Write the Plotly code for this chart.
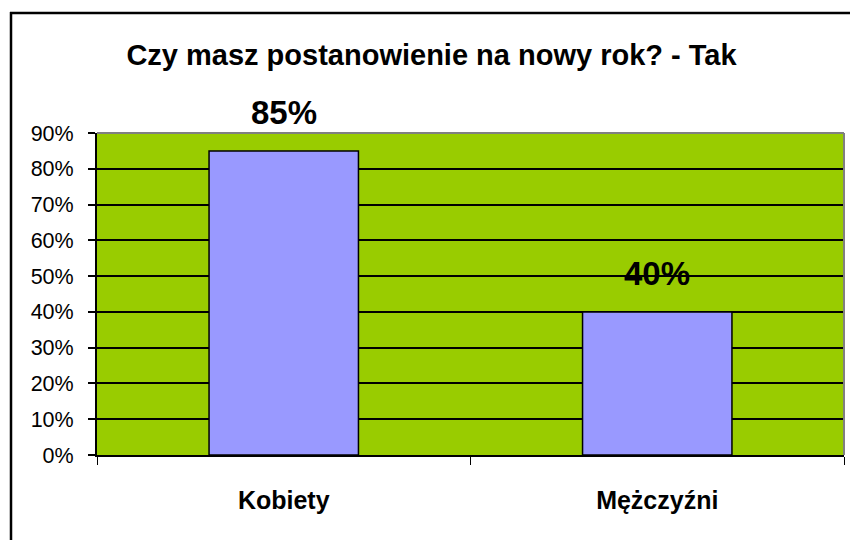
import plotly.graph_objects as go

categories = ["Kobiety", "Mężczyźni"]
values = [0.85, 0.40]
value_labels = ["85%", "40%"]
y_ticks = [0, 0.1, 0.2, 0.3, 0.4, 0.5, 0.6, 0.7, 0.8, 0.9]
y_tick_labels = ["0%", "10%", "20%", "30%", "40%", "50%", "60%", "70%", "80%", "90%"]
title_text = "Czy masz postanowienie na nowy rok? - Tak"

FONT = "Liberation Sans, Arial, sans-serif"

W, H = 850, 540
L, R, T, B = 97, 844, 133, 455
pw, ph = R - L, B - T

def px_x(p):
    return (p - L) / pw

def px_y(p):
    return (B - p) / ph

fig = go.Figure()
fig.add_trace(go.Bar(
    x=list(range(len(categories))),
    y=values,
    width=0.4,
    marker=dict(color="#9999FF", line=dict(color="black", width=1.5)),
    cliponaxis=False,
))

annotations = [
    dict(x=i, y=v, xref="x", yref="y", text=f"<b>{lab}</b>", showarrow=False,
         yanchor="bottom", yshift=18,
         font=dict(family=FONT, size=33, color="black"))
    for i, (v, lab) in enumerate(zip(values, value_labels))
]

fig.update_layout(
    width=W, height=H,
    margin=dict(l=L, r=W - R, t=T, b=H - B),
    paper_bgcolor="white",
    plot_bgcolor="#99CC00",
    showlegend=False,
    title=dict(text=f"<b>{title_text}</b>", x=431.5 / W, xref="container", xanchor="center",
               y=1 - 55 / H, yref="container", yanchor="middle",
               font=dict(family=FONT, size=29, color="black")),
    annotations=annotations,
    xaxis=dict(
        range=[-0.5, 1.5],
        tickmode="array",
        tickvals=list(range(len(categories))),
        ticktext=[f"<b>{c}</b>" for c in categories],
        ticks="",
        tickfont=dict(family=FONT, size=25, color="black"),
        ticklabelstandoff=22,
        showgrid=False,
        zeroline=False,
        showline=True, linecolor="black", linewidth=2,
        minor=dict(tickmode="array", tickvals=[-0.5, 0.5, 1.5], ticks="outside",
                   ticklen=8, tickwidth=1, tickcolor="black", showgrid=False),
    ),
    yaxis=dict(
        range=[0, 0.9],
        tickmode="array",
        tickvals=y_ticks,
        ticktext=y_tick_labels,
        ticks="outside", ticklen=7, tickwidth=2, tickcolor="black",
        tickfont=dict(family=FONT, size=21.5, color="black"),
        ticklabelstandoff=10,
        showgrid=True, gridcolor="black", gridwidth=2,
        zeroline=False,
        showline=True, linecolor="black", linewidth=2,
    ),
    shapes=[
        dict(type="line", xref="paper", yref="paper", x0=1, x1=1, y0=0, y1=1,
             line=dict(color="#808080", width=2)),
        dict(type="line", xref="paper", yref="paper", x0=0, x1=1, y0=1, y1=1,
             line=dict(color="#808080", width=2)),
        # outer chart border: only top and left edges are inside the picture
        dict(type="line", xref="paper", yref="paper",
             x0=px_x(10), x1=px_x(W), y0=px_y(13), y1=px_y(13),
             line=dict(color="black", width=2.5)),
        dict(type="line", xref="paper", yref="paper",
             x0=px_x(11), x1=px_x(11), y0=px_y(12), y1=px_y(H),
             line=dict(color="black", width=2.5)),
    ],
)

fig.write_html(
    "out.html",
    config={"displayModeBar": False},
    post_script="document.body.style.margin='0';document.documentElement.style.overflow='hidden';",
)
